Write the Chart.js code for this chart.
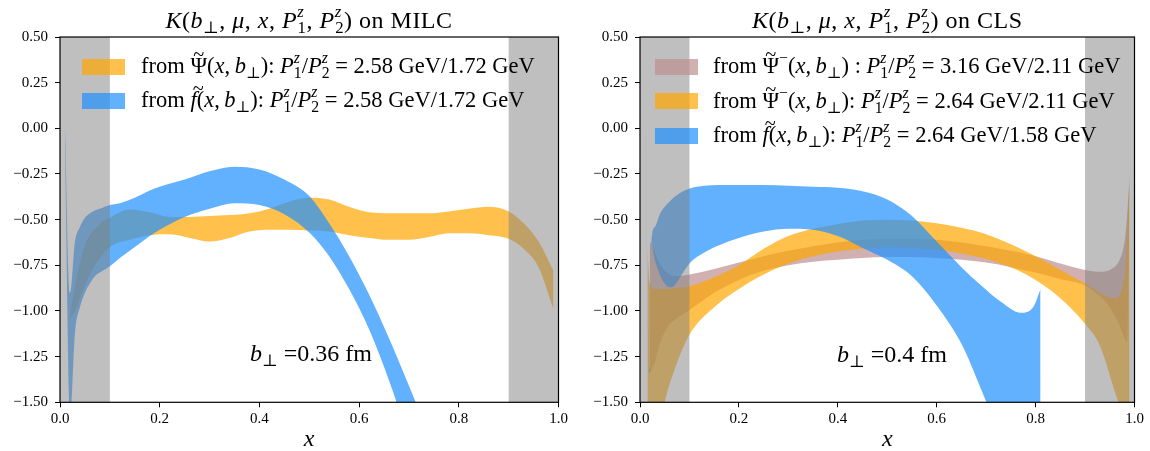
<!DOCTYPE html>
<html>
<head>
<meta charset="utf-8">
<script src="https://cdn.jsdelivr.net/npm/chart.js@4.4.1/dist/chart.umd.min.js"></script>
<style>
  body { margin: 0; background: #fff; }
  #wrap { position: relative; width: 1150px; height: 451px; overflow: hidden; font-family: "Liberation Serif", "DejaVu Serif", serif; color: #000; }
  canvas { position: absolute; top: 0; }
  #milc { left: 0; }
  #cls { left: 575px; }
  .tx { position: absolute; white-space: nowrap; line-height: 1; }
  .sw { position: absolute; width: 43px; height: 16px; }
  .sb { font-size: 0.7em; position: relative; top: 0.32em; }
  .su { font-size: 0.7em; position: relative; top: -0.62em; }
  .ac { position: relative; display: inline-block; }
  .tl { position: absolute; left: 0; width: 100%; text-align: center; top: -0.55em; font-size: 0.9em; }
</style>
</head>
<body>
<div id="wrap">
  <canvas id="milc" width="575" height="451"></canvas>
  <canvas id="cls" width="575" height="451"></canvas>
</div>
<script>
// 1. Data
const xTicks = [0, 0.2, 0.4, 0.6, 0.8, 1.0];
const xTickLabels = ['0.0', '0.2', '0.4', '0.6', '0.8', '1.0'];
const yTicks = [-1.5, -1.25, -1.0, -0.75, -0.5, -0.25, 0, 0.25, 0.5];
const yTickLabels = ['\u22121.50', '\u22121.25', '\u22121.00', '\u22120.75', '\u22120.50', '\u22120.25', '0.00', '0.25', '0.50'];
const grayRanges = [[0, 0.1], [0.9, 1.0]];

// MILC, b = 0.36 fm
const milcPsiX = [0.02, 0.03, 0.05, 0.07, 0.10, 0.14, 0.18, 0.22, 0.26, 0.30, 0.34, 0.38, 0.42, 0.46, 0.50, 0.54, 0.58, 0.62, 0.66, 0.70, 0.74, 0.78, 0.82, 0.86, 0.90, 0.93, 0.96, 0.99];
const milcPsiUp = [-1.02, -0.86, -0.64, -0.55, -0.49, -0.445, -0.46, -0.485, -0.485, -0.48, -0.475, -0.465, -0.44, -0.40, -0.38, -0.39, -0.43, -0.46, -0.465, -0.465, -0.465, -0.455, -0.44, -0.43, -0.455, -0.52, -0.62, -0.78];
const milcPsiLo = [-1.04, -1.00, -0.86, -0.75, -0.65, -0.61, -0.585, -0.58, -0.60, -0.62, -0.60, -0.565, -0.555, -0.555, -0.56, -0.565, -0.585, -0.60, -0.61, -0.61, -0.595, -0.575, -0.575, -0.585, -0.605, -0.66, -0.76, -0.99];

const milcFX = [0.01, 0.02, 0.03, 0.04, 0.05, 0.06, 0.07, 0.08, 0.10, 0.12, 0.15, 0.18, 0.20, 0.25, 0.30, 0.35, 0.40, 0.45, 0.50, 0.54, 0.58, 0.62, 0.66, 0.70, 0.74];
const milcFUp = [0.00, -0.90, -0.62, -0.54, -0.49, -0.465, -0.45, -0.44, -0.42, -0.41, -0.38, -0.34, -0.32, -0.28, -0.235, -0.21, -0.225, -0.28, -0.37, -0.52, -0.70, -0.91, -1.15, -1.41, -1.68];
const milcFLo = [-0.10, -1.60, -1.12, -0.98, -0.90, -0.85, -0.81, -0.79, -0.755, -0.71, -0.65, -0.59, -0.555, -0.485, -0.44, -0.41, -0.42, -0.47, -0.57, -0.70, -0.88, -1.10, -1.38, -1.70, -2.00];

// CLS, b = 0.4 fm
const clsPsi1X = [0.02, 0.03, 0.04, 0.055, 0.07, 0.10, 0.15, 0.20, 0.25, 0.30, 0.35, 0.40, 0.45, 0.50, 0.55, 0.60, 0.65, 0.70, 0.75, 0.80, 0.85, 0.90, 0.93, 0.95, 0.97, 0.98, 0.985, 0.99];
const clsPsi1Up = [-0.62, -0.68, -0.74, -0.79, -0.81, -0.80, -0.77, -0.735, -0.70, -0.67, -0.645, -0.625, -0.61, -0.605, -0.605, -0.61, -0.625, -0.645, -0.67, -0.70, -0.74, -0.775, -0.785, -0.775, -0.72, -0.62, -0.48, -0.25];
const clsPsi1Lo = [-1.34, -1.28, -1.18, -1.09, -1.05, -0.995, -0.90, -0.83, -0.78, -0.75, -0.73, -0.72, -0.71, -0.705, -0.705, -0.71, -0.72, -0.735, -0.76, -0.79, -0.825, -0.86, -0.92, -0.98, -1.08, -1.15, -1.17, -0.30];

const clsPsi2X = [0.015, 0.02, 0.03, 0.05, 0.07, 0.10, 0.15, 0.20, 0.25, 0.30, 0.35, 0.40, 0.45, 0.50, 0.55, 0.60, 0.65, 0.70, 0.75, 0.80, 0.85, 0.90, 0.93, 0.96, 0.98, 0.99];
const clsPsi2Up = [-0.66, -0.85, -0.88, -0.88, -0.875, -0.865, -0.815, -0.75, -0.66, -0.59, -0.55, -0.525, -0.505, -0.50, -0.505, -0.52, -0.545, -0.58, -0.635, -0.70, -0.775, -0.85, -0.90, -0.93, -0.80, -0.30];
const clsPsi2Lo = [-2.00, -1.95, -1.80, -1.50, -1.32, -1.13, -0.98, -0.88, -0.80, -0.74, -0.70, -0.675, -0.66, -0.65, -0.655, -0.665, -0.685, -0.715, -0.76, -0.83, -0.93, -1.07, -1.19, -1.44, -1.62, -1.80];

const clsFX = [0.01, 0.02, 0.023, 0.03, 0.04, 0.05, 0.06, 0.07, 0.08, 0.10, 0.13, 0.16, 0.20, 0.25, 0.30, 0.35, 0.40, 0.45, 0.50, 0.55, 0.60, 0.65, 0.69, 0.73, 0.77, 0.795, 0.81];
const clsFUp = [0.00, -1.32, -0.62, -0.54, -0.47, -0.43, -0.40, -0.375, -0.355, -0.33, -0.315, -0.31, -0.31, -0.31, -0.315, -0.32, -0.325, -0.345, -0.39, -0.48, -0.62, -0.76, -0.86, -0.95, -1.01, -0.98, -0.88];
const clsFLo = [-0.03, -1.34, -0.64, -0.72, -0.80, -0.85, -0.87, -0.86, -0.82, -0.74, -0.68, -0.64, -0.60, -0.565, -0.55, -0.555, -0.59, -0.655, -0.72, -0.81, -0.97, -1.18, -1.43, -1.70, -2.00, -2.20, -2.30];

const ORANGE = 'rgba(255,165,0,0.7)';
const BLUE = 'rgba(30,144,255,0.7)';
const PINK = 'rgba(188,143,143,0.7)';
const GRAY = 'rgba(128,128,128,0.5)';

// 2. Bands: upper line + lower line filled to it
function pts(xs, ys) { return xs.map((x, i) => ({ x: x, y: ys[i] })); }
function band(xs, up, lo, color) {
  const common = { borderWidth: 0, borderColor: 'rgba(0,0,0,0)', pointRadius: 0, cubicInterpolationMode: 'monotone' };
  return [
    Object.assign({ data: pts(xs, up), fill: false }, common),
    Object.assign({ data: pts(xs, lo), fill: '-1', backgroundColor: color }, common)
  ];
}

const panelPlugin = {
  id: 'panel',
  afterDatasetsDraw(chart) {
    const { ctx, chartArea: a, scales } = chart;
    ctx.save();
    ctx.fillStyle = GRAY;
    grayRanges.forEach(r => {
      const p0 = scales.x.getPixelForValue(r[0]), p1 = scales.x.getPixelForValue(r[1]);
      ctx.fillRect(p0, a.top, p1 - p0, a.bottom - a.top);
    });
    ctx.restore();
  },
  afterDraw(chart) {
    const { ctx, chartArea: a } = chart;
    ctx.save();
    ctx.strokeStyle = '#000';
    ctx.lineWidth = 1.2;
    ctx.strokeRect(a.left, a.top, a.right - a.left, a.bottom - a.top);
    ctx.restore();
  }
};

function makePanel(id, datasets, yWidth, padRight) {
  const tickFont = { family: 'Liberation Serif', size: 15 };
  return new Chart(document.getElementById(id), {
    type: 'line',
    data: { datasets: datasets },
    options: {
      responsive: false,
      animation: false,
      layout: { padding: { left: 0, right: padRight, top: 37, bottom: 0 } },
      plugins: { legend: { display: false }, tooltip: { enabled: false } },
      scales: {
        x: {
          type: 'linear', min: 0, max: 1,
          afterBuildTicks: s => { s.ticks = xTicks.map(v => ({ value: v })); },
          afterFit: s => { s.height = 48.7; },
          ticks: { callback: (v, i) => xTickLabels[i], color: '#000', font: tickFont, padding: 3, maxRotation: 0 },
          grid: { drawOnChartArea: false, drawTicks: true, tickLength: 5, color: '#000' },
          border: { display: false }
        },
        y: {
          type: 'linear', min: -1.5, max: 0.5,
          afterBuildTicks: s => { s.ticks = yTicks.map(v => ({ value: v })); },
          afterFit: s => { s.width = yWidth; },
          ticks: { callback: (v, i) => yTickLabels[i], color: '#000', font: tickFont, padding: 7 },
          grid: { drawOnChartArea: false, drawTicks: true, tickLength: 5, color: '#000' },
          border: { display: false }
        }
      }
    },
    plugins: [panelPlugin]
  });
}

// blue drawn last (on top), so it goes first in the list
makePanel('milc', [].concat(
  band(milcFX, milcFUp, milcFLo, BLUE),
  band(milcPsiX, milcPsiUp, milcPsiLo, ORANGE)
), 60, 16.5);

makePanel('cls', [].concat(
  band(clsFX, clsFUp, clsFLo, BLUE),
  band(clsPsi2X, clsPsi2Up, clsPsi2Lo, ORANGE),
  band(clsPsi1X, clsPsi1Up, clsPsi1Lo, PINK)
), 65, 15.5);

// 3. Texts with math
const B = '<i>b</i><span class="sb">\u22a5</span>';
const P = n => '<i>P</i><span class="su"><i>z</i></span><span class="sb" style="margin-left:-0.39em">' + n + '</span>';
const PSI = '<span class="ac">\u03a8<span class="tl">~</span></span>';
const PSIM = PSI + '<span class="su">\u2212</span>';
const FT = '<span class="ac"><i>f</i><span class="tl" style="left:0.12em">~</span></span>';
const ARGS = '(<i>x</i>,\u2009' + B + ')';
const RATIO = P(1) + '/' + P(2) + ' = ';
const KARGS = '<i>K</i>(' + B + ', <i>\u03bc</i>, <i>x</i>, ' + P(1) + ', ' + P(2) + ')';

const texts = [
  { x: 59.5, w: 499, base: 28, size: 24, ls: 0.5, html: KARGS + ' on MILC' },
  { x: 640, w: 494.5, base: 28, size: 24, ls: 0.5, html: KARGS + ' on CLS' },
  { x: 141, base: 74, size: 22.5, html: 'from ' + PSI + ARGS + ': ' + RATIO + '2.58 GeV/1.72 GeV' },
  { x: 141, base: 108, size: 22.5, html: 'from ' + FT + ARGS + ': ' + RATIO + '2.58 GeV/1.72 GeV' },
  { x: 713, base: 74, size: 22.5, html: 'from ' + PSIM + ARGS + ' : ' + RATIO + '3.16 GeV/2.11 GeV' },
  { x: 713, base: 108.5, size: 22.5, html: 'from ' + PSIM + ARGS + ': ' + RATIO + '2.64 GeV/2.11 GeV' },
  { x: 713, base: 143, size: 22.5, html: 'from ' + FT + ARGS + ': ' + RATIO + '2.64 GeV/1.58 GeV' },
  { x: 250, base: 361, size: 24, html: B + ' =0.36 fm' },
  { x: 837, base: 362, size: 24, html: B + ' =0.4 fm' },
  { x: 59.5, w: 499, base: 446, size: 24, html: '<i>x</i>' },
  { x: 640, w: 494.5, base: 446, size: 24, html: '<i>x</i>' }
];
const swatches = [
  { x: 82, y: 59, color: ORANGE }, { x: 82, y: 93, color: BLUE },
  { x: 655, y: 59, color: PINK }, { x: 655, y: 93, color: ORANGE }, { x: 655, y: 128, color: BLUE }
];

const wrap = document.getElementById('wrap');
texts.forEach(t => {
  const d = document.createElement('div');
  d.className = 'tx';
  d.style.fontSize = t.size + 'px';
  d.style.left = t.x + 'px';
  d.style.top = (t.base - 0.8375 * t.size) + 'px';
  if (t.ls) d.style.letterSpacing = t.ls + 'px';
  if (t.w) { d.style.width = t.w + 'px'; d.style.textAlign = 'center'; }
  d.innerHTML = t.html;
  wrap.appendChild(d);
});
swatches.forEach(s => {
  const d = document.createElement('div');
  d.className = 'sw';
  d.style.left = s.x + 'px';
  d.style.top = s.y + 'px';
  d.style.background = s.color;
  wrap.appendChild(d);
});
</script>
</body>
</html>
